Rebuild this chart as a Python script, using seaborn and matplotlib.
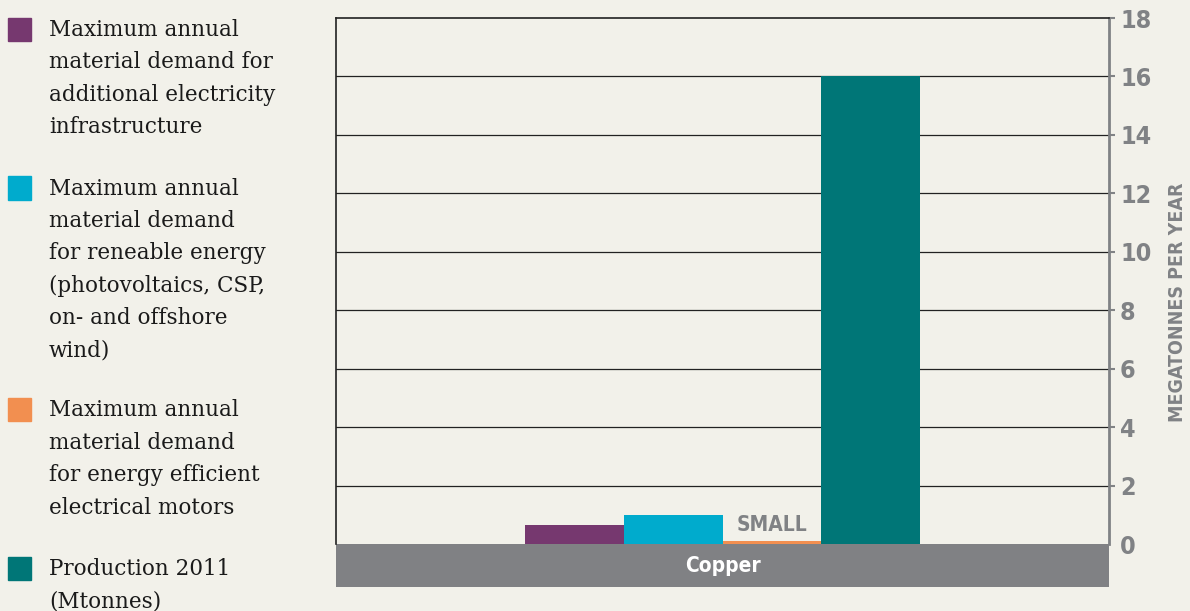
"""Copper demand vs 2011 production bar chart"""

import matplotlib.pyplot as plt
import matplotlib.patches as mpatches
from matplotlib import font_manager
import pandas as pd
import seaborn as sns

# data
materials = ["Copper"]
series = [
    "Maximum annual\nmaterial demand for\nadditional electricity\ninfrastructure",
    "Maximum annual\nmaterial demand\nfor reneable energy\n(photovoltaics, CSP,\non- and offshore\nwind)",
    "Maximum annual\nmaterial demand\nfor energy efficient\nelectrical motors",
    "Production 2011\n(Mtonnes)",
]
copper_values = [0.65, 1.0, 0.1, 16.0]
y_ticks = [0, 2, 4, 6, 8, 10, 12, 14, 16, 18]
y_label = "MEGATONNES PER YEAR"
small_note = "SMALL"

colors = ["#76386f", "#00abcd", "#f28f50", "#007677"]
BG = "#f2f1ea"
GREY = "#808285"
SERIF = ["DejaVu Serif"]

# condensed bold sans for the numeric / label text
COND = font_manager.FontProperties(family="DejaVu Sans", stretch="condensed", weight="bold")


def build_frame() -> pd.DataFrame:
    rows = []
    for i, s in enumerate(series):
        rows.append({"material": materials[0], "series": s, "value": copper_values[i]})
    return pd.DataFrame(rows)


def cond(size: float) -> font_manager.FontProperties:
    fp = COND.copy()
    fp.set_size(size)
    return fp


def draw_legend(fig: plt.Figure) -> None:
    """Manual legend: squares aligned with the first line of each label."""
    y_px = 18
    line_px = 31.7
    for s, c in zip(series, colors):
        fig.patches.append(
            mpatches.Rectangle(
                (8 / 1190, 1 - (y_px + 23) / 611), 23 / 1190, 23 / 611,
                transform=fig.transFigure, color=c, figure=fig,
            )
        )
        fig.text(49 / 1190, 1 - (y_px + 1) / 611, s, va="top", ha="left",
                 family=SERIF, fontsize=15.5, color="#1a1a1a", linespacing=1.61)
        y_px += line_px * (s.count("\n") + 2)


def main() -> None:
    sns.set_style("white")
    df = build_frame()

    fig = plt.figure(figsize=(11.9, 6.11), dpi=100, facecolor=BG)
    ax = fig.add_axes([336 / 1190, 1 - 587 / 611, (1109 - 336) / 1190, (587 - 18) / 611])
    ax.set_facecolor(BG)

    sns.barplot(data=df, x="material", y="value", hue="series", hue_order=series,
                palette=colors, width=0.51, legend=False, ax=ax, saturation=1,
                linewidth=0, edgecolor="none", zorder=3)
    ax.set_xlim(-0.5, 0.5)
    ax.set_ylim(-1.47, 18)

    # gridlines
    for t in y_ticks[1:-1]:
        ax.axhline(t, color="#222222", lw=0.9, zorder=1)
    # category band below zero
    ax.axhspan(-1.47, 0, color="#808184", zorder=2, lw=0)
    ax.text(0, -0.74, materials[0], ha="center", va="center", color="white",
            fontproperties=cond(15), zorder=4)
    ax.text(0.064, 0.3, small_note, ha="center", va="bottom", color=GREY,
            fontproperties=cond(15), zorder=4)

    ax.set_xticks([])
    ax.set_xlabel("")
    ax.yaxis.tick_right()
    ax.yaxis.set_label_position("right")
    ax.set_yticks(y_ticks)
    ax.set_yticklabels([str(t) for t in y_ticks])
    ax.tick_params(axis="y", direction="out", length=4, width=1.5, colors=GREY, pad=4)
    for lab in ax.get_yticklabels():
        lab.set_fontproperties(cond(18))
    ax.yaxis.get_major_ticks()[0].tick2line.set_visible(False)
    ax.set_ylabel(y_label, color=GREY, fontproperties=cond(14), labelpad=12)

    for side in ["left", "top"]:
        ax.spines[side].set_color("#222222")
        ax.spines[side].set_linewidth(1.2)
    ax.spines["right"].set_color(GREY)
    ax.spines["right"].set_linewidth(2)
    ax.spines["left"].set_bounds(0, 18)
    ax.spines["right"].set_bounds(0, 18)
    ax.spines["bottom"].set_visible(False)

    draw_legend(fig)
    fig.savefig("out.png", dpi=100, facecolor=BG)


if __name__ == "__main__":
    main()
